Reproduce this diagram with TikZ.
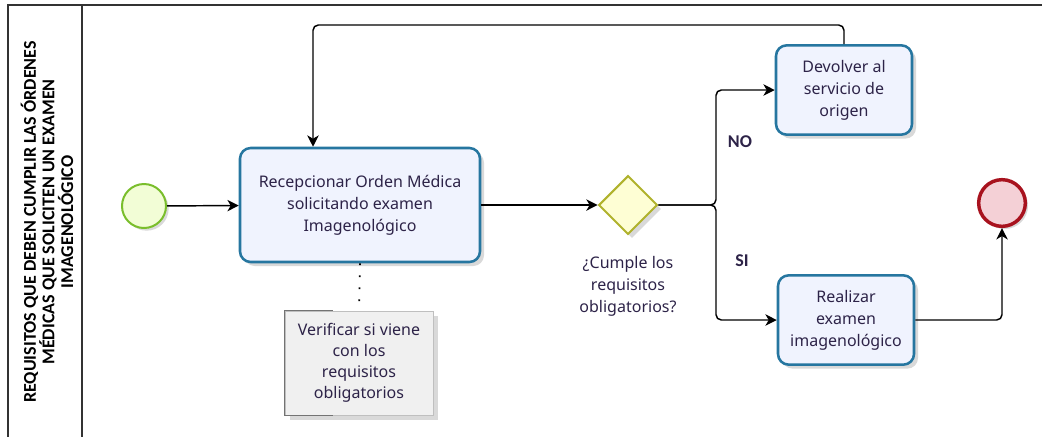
\documentclass[tikz,border=0pt]{standalone}
\usepackage{fontspec}
\setmainfont{Noto Sans}
\newfontfamily\lanefont{Carlito}
\usetikzlibrary{shapes.geometric,arrows.meta,shadows}

\definecolor{taskblue}{RGB}{38,118,160}
\definecolor{taskfill}{RGB}{240,243,254}
\definecolor{startgreen}{RGB}{122,190,44}
\definecolor{startfill}{RGB}{242,253,214}
\definecolor{endred}{RGB}{168,18,30}
\definecolor{endfill}{RGB}{244,208,214}
\definecolor{gwborder}{RGB}{176,178,44}
\definecolor{gwfill}{RGB}{254,254,212}
\definecolor{txt}{RGB}{45,35,72}

\begin{document}
\begin{tikzpicture}[x=0.75pt,y=-0.75pt,
    lane/.style={draw=black!80, line width=1.4pt},
    task/.style={draw=taskblue, line width=1.9pt, rounded corners=8pt, fill=taskfill,
        align=center, text=txt, font=\fontsize{12}{16.5}\selectfont,
        drop shadow={shadow xshift=3pt, shadow yshift=-3pt, opacity=0.15, fill=black}},
    flow/.style={draw=black, line width=1.1pt, rounded corners=4pt,
        -{Stealth[length=8.5pt, width=8.5pt, inset=2.5pt]}},
    tag/.style={font=\lanefont\bfseries\fontsize{13.5}{15}\selectfont, text=txt}]
    \useasboundingbox (0,0) rectangle (1042,437);

    %pool and lane
    \draw[lane] (1042,5) -- (8,5) -- (8,437);
    \draw[lane] (82,5) -- (82,437);
    \node[rotate=90, align=center, font=\lanefont\bfseries\fontsize{13.5}{12}\selectfont] (title) at (47,222)
        {REQUISITOS QUE DEBEN CUMPLIR LAS ÓRDENES\\MÉDICAS QUE SOLICITEN UN EXAMEN\\IMAGENOLÓGICO};

    %events
    \node[circle, draw=startgreen, line width=1.5pt, fill=startfill, minimum size=33pt, inner sep=0pt,
        drop shadow={shadow xshift=2pt, shadow yshift=-2pt, opacity=0.15, fill=black}] (start) at (144,206) {};
    \node[circle, draw=endred, line width=2.6pt, fill=endfill, minimum size=35pt, inner sep=0pt,
        drop shadow={shadow xshift=2pt, shadow yshift=-2pt, opacity=0.15, fill=black}] (end) at (1002,203) {};

    %tasks
    \node[task, minimum width=180pt, minimum height=85.5pt] (rec) at (360,205)
        {Recepcionar Orden Médica\\solicitando examen\\Imagenológico};
    \node[task, minimum width=102pt, minimum height=67pt] (dev) at (844,90)
        {Devolver al\\servicio de\\origen};
    \node[task, minimum width=102pt, minimum height=67pt] (real) at (846,320)
        {Realizar\\examen\\imagenológico};

    %gateway
    \node[diamond, draw=gwborder, line width=1.5pt, fill=gwfill, minimum width=44pt, minimum height=44pt,
        inner sep=0pt, drop shadow={shadow xshift=3pt, shadow yshift=-3pt, opacity=0.15, fill=black}] (gw) at (628,205) {};
    \node[align=center, text=txt, font=\fontsize{12}{16.5}\selectfont] (gwlabel) at (628,286)
        {¿Cumple los\\requisitos\\obligatorios?};

    %annotation
    \node[draw=black!25, fill=black!6, minimum width=111pt, minimum height=78pt, align=center, text=txt,
        font=\fontsize{12}{15.8}\selectfont,
        drop shadow={shadow xshift=4pt, shadow yshift=-4pt, opacity=0.15, fill=black}] (note) at (359,363)
        {Verificar si viene\\con los\\requisitos\\obligatorios};
    \draw[black!55, line width=1pt] ([xshift=36pt]note.north west) -- (note.north west)
        -- (note.south west) -- ([xshift=36pt]note.south west);
    \draw[line width=1.4pt, dash pattern=on 1.4pt off 7.6pt] (rec.south) -- (note.north);

    %flows
    \coordinate (split) at (716,205);
    \coordinate (back) at (313,25);
    \draw[flow] (start) -- (rec);
    \draw[flow] (rec.east) -- (gw.west);
    \draw[flow] (gw.east) -- (split) |- (dev.west);
    \draw[flow] (gw.east) -- (split) |- (real.west);
    \draw[flow] (dev.north) |- (back) -- (back |- rec.north);
    \draw[flow] (real.east) -| (end.south);
    \node[tag] (no) at (740,142) {NO};
    \node[tag] (si) at (742,261) {SI};
\end{tikzpicture}
\end{document}
